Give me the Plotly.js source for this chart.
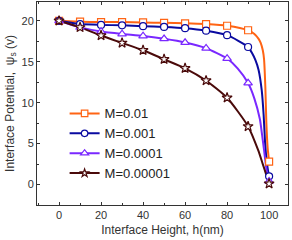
<!DOCTYPE html>
<html>
<head>
<meta charset="utf-8">
<script src="https://cdn.plot.ly/plotly-3.0.1.min.js"></script>
<style>html,body{margin:0;padding:0;background:#fff;}#chart{width:292px;height:240px;}</style>
</head>
<body>
<div id="chart"></div>
<script>
// Marker positions (interface height, nm)
var hMarkers = [0, 10, 20, 30, 40, 50, 60, 70, 80, 90, 100];
var seriesNames = ["M=0.01", "M=0.001", "M=0.0001", "M=0.00001"];
// Interface potential at markers (V)
var psiM001    = [20, 19.9, 19.85, 19.85, 19.8, 19.75, 19.7, 19.6, 19.4, 18.85, 2.8];
var psiM0001   = [20, 19.6, 19.5, 19.45, 19.35, 19.25, 19.1, 18.8, 18.25, 16.8, 1.0];
var psiM00001  = [20, 19.2, 18.7, 18.4, 18.15, 17.8, 17.35, 16.65, 15.4, 12.4, 0.4];
var psiM000001 = [20, 19.2, 18.2, 17.3, 16.4, 15.3, 14.2, 12.7, 10.6, 7.1, 0.1];

// Curve points (incl. the steep drop near 100 nm)
var hCurve001    = [0, 10, 20, 30, 40, 50, 60, 70, 80, 90, 93, 95, 96, 97, 97.6, 98.2, 98.7, 99.3, 100];
var psiCurve001  = [20, 19.9, 19.85, 19.85, 19.8, 19.75, 19.7, 19.6, 19.4, 18.85, 18.4, 17.8, 17.3, 16.4, 15.3, 12, 7.5, 4.5, 2.8];
var hCurve0001   = [0, 10, 20, 30, 40, 50, 60, 70, 80, 90, 92, 93.5, 95, 96.5, 97.4, 98, 98.6, 99.3, 100];
var psiCurve0001 = [20, 19.6, 19.5, 19.45, 19.35, 19.25, 19.1, 18.8, 18.25, 16.8, 16.0, 15.2, 14.0, 11.5, 8.5, 5.5, 3.5, 2.0, 1.0];
var hCurve00001   = [0, 10, 20, 30, 40, 50, 60, 70, 80, 85, 90, 93, 95.6, 96.7, 97.6, 98.5, 99.3, 100];
var psiCurve00001 = [20, 19.2, 18.7, 18.4, 18.15, 17.8, 17.35, 16.65, 15.4, 14.2, 12.4, 10.5, 8.0, 6.0, 4.2, 2.3, 1.0, 0.4];
var hCurve000001   = [0, 10, 20, 30, 40, 50, 60, 70, 80, 90, 94.8, 97, 98.7, 100];
var psiCurve000001 = [20, 19.2, 18.2, 17.3, 16.4, 15.3, 14.2, 12.7, 10.6, 7.1, 4.2, 2.5, 1.15, 0.1];

var xTicks = [0, 20, 40, 60, 80, 100];
var yTicks = [0, 5, 10, 15, 20];

var colors = ["#ff6414", "#0a0aa0", "#7a28ff", "#4a0a0a"];
var symbols = ["square", "circle", "triangle-up", "star"];
var sizes = [7, 7, 7.5, 7.5];
var legendSizes = [6.5, 6.5, 7, 6];
var markerY = [psiM001, psiM0001, psiM00001, psiM000001];
var curveX = [hCurve001, hCurve0001, hCurve00001, hCurve000001];
var curveY = [psiCurve001, psiCurve0001, psiCurve00001, psiCurve000001];

var data = [];
for (var i = 0; i < 4; i++) {
  data.push({x: curveX[i], y: curveY[i], mode: "lines", type: "scatter",
    line: {color: colors[i], width: 2, shape: "spline", smoothing: 0.6},
    showlegend: false, hoverinfo: "skip"});
}
for (var i = 0; i < 4; i++) {
  data.push({x: hMarkers, y: markerY[i], mode: "markers", type: "scatter",
    marker: {symbol: symbols[i], size: sizes[i], color: "#ffffff", line: {color: colors[i], width: 1.2}},
    showlegend: false});
}
for (var i = 0; i < 4; i++) {
  data.push({x: [null], y: [null], mode: "lines+markers", type: "scatter", name: seriesNames[i],
    line: {color: colors[i], width: 2},
    marker: {symbol: symbols[i], size: legendSizes[i], color: "#ffffff", line: {color: colors[i], width: 1.2}}});
}

var font = "Arial, 'Liberation Sans', sans-serif";
var layout = {
  width: 292, height: 240,
  margin: {l: 37, r: 4, t: 2, b: 35},
  paper_bgcolor: "#fff", plot_bgcolor: "#fff",
  font: {family: font, color: "#333"},
  showlegend: true,
  legend: {x: 0.11, y: 0.525, xanchor: "left", yanchor: "top", bgcolor: "rgba(0,0,0,0)",
    font: {size: 13, family: font, color: "#222"}, tracegroupgap: 0},
  xaxis: {
    range: [-10.5, 109], tickvals: xTicks, ticks: "inside", ticklen: 3, tickcolor: "#333",
    showline: true, linecolor: "#333", linewidth: 1, mirror: "ticks",
    showgrid: false, zeroline: false,
    minor: {dtick: 10, tick0: 0, ticks: "inside", ticklen: 2, tickcolor: "#333"},
    tickfont: {size: 11, color: "#333"},
    title: {text: "Interface Height, h(nm)", font: {size: 12, color: "#333"}, standoff: 5}
  },
  yaxis: {
    range: [-2.5, 22.3], tickvals: yTicks, ticks: "inside", ticklen: 3, tickcolor: "#333",
    showline: true, linecolor: "#333", linewidth: 1, mirror: "ticks",
    showgrid: false, zeroline: false,
    minor: {dtick: 2.5, tick0: 0, ticks: "inside", ticklen: 2, tickcolor: "#333"},
    tickfont: {size: 11, color: "#333"},
    title: {text: "Interface Potential,  ψ<sub>s</sub> (v)", font: {size: 12, color: "#333"}, standoff: 4}
  }
};
Plotly.newPlot("chart", data, layout, {displayModeBar: false, staticPlot: true});
</script>
</body>
</html>
